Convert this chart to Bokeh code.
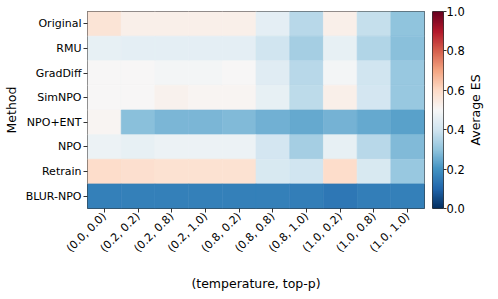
import numpy as np
from bokeh.plotting import figure
from bokeh.models import (LinearColorMapper, FactorRange, ColumnDataSource, FixedTicker,
                          Range1d, NumeralTickFormatter, Label)
from bokeh.transform import transform
from bokeh.layouts import row
from bokeh.embed import file_html
from bokeh.resources import INLINE

methods = ["Original", "RMU", "GradDiff", "SimNPO", "NPO+ENT", "NPO", "Retrain", "BLUR-NPO"]
combos = ["(0.0, 0.0)", "(0.2, 0.2)", "(0.2, 0.8)", "(0.2, 1.0)", "(0.8, 0.2)",
          "(0.8, 0.8)", "(0.8, 1.0)", "(1.0, 0.2)", "(1.0, 0.8)", "(1.0, 1.0)"]

original = [0.57, 0.53, 0.53, 0.53, 0.53, 0.45, 0.36, 0.53, 0.38, 0.30]
rmu      = [0.46, 0.45, 0.45, 0.45, 0.45, 0.40, 0.33, 0.46, 0.35, 0.29]
graddiff = [0.50, 0.50, 0.49, 0.49, 0.50, 0.44, 0.36, 0.49, 0.40, 0.31]
simnpo   = [0.50, 0.50, 0.52, 0.51, 0.51, 0.46, 0.37, 0.53, 0.41, 0.31]
npo_ent  = [0.51, 0.29, 0.27, 0.27, 0.28, 0.26, 0.245, 0.265, 0.245, 0.23]
npo      = [0.47, 0.46, 0.47, 0.47, 0.47, 0.41, 0.33, 0.46, 0.36, 0.28]
retrain  = [0.59, 0.585, 0.575, 0.575, 0.575, 0.42, 0.40, 0.59, 0.42, 0.31]
blur_npo = [0.16, 0.16, 0.16, 0.16, 0.16, 0.16, 0.155, 0.14, 0.155, 0.16]

rows = [original, rmu, graddiff, simnpo, npo_ent, npo, retrain, blur_npo]

# RdBu_r colormap stops
stops = ["#053061", "#2166ac", "#4393c3", "#92c5de", "#d1e5f0", "#f7f7f7",
         "#fddbc7", "#f4a582", "#d6604d", "#b2182b", "#67001f"]
def hex2rgb(h):
    return np.array([int(h[i:i + 2], 16) for i in (1, 3, 5)], dtype=float)
srgb = np.array([hex2rgb(s) for s in stops])
pos = np.linspace(0, 1, len(stops))
t = np.linspace(0, 1, 256)
palette = []
for tt in t:
    c = [np.interp(tt, pos, srgb[:, k]) for k in range(3)]
    palette.append("#%02x%02x%02x" % tuple(int(round(v)) for v in c))

mapper = LinearColorMapper(palette=palette, low=0.0, high=1.0)

xs, ys, vs = [], [], []
for m, vals in zip(methods, rows):
    for c, v in zip(combos, vals):
        xs.append(c)
        ys.append(m)
        vs.append(v)
src = ColumnDataSource(dict(x=xs, y=ys, v=vs))

FONT = "DejaVu Sans"
TOP = 11
BOTTOM = 79
FH = 197

p = figure(x_range=FactorRange(factors=combos), y_range=FactorRange(factors=list(reversed(methods))),
           frame_width=337, frame_height=FH, min_border_left=76, min_border_top=TOP,
           min_border_bottom=BOTTOM, min_border_right=5,
           output_backend="svg", toolbar_location=None, tools="")
p.rect(x="x", y="y", width=1, height=1, source=src,
       fill_color=transform("v", mapper), line_color=transform("v", mapper), line_width=0.6)
p.grid.grid_line_color = None
p.outline_line_color = "#333333"
p.outline_line_width = 1
p.background_fill_color = None
for ax in (p.xaxis[0], p.yaxis[0]):
    ax.axis_line_color = None
    ax.major_tick_line_color = "#333333"
    ax.major_tick_out = 4
    ax.major_tick_in = 0
    ax.minor_tick_line_color = None
    ax.major_label_text_font = FONT
    ax.major_label_text_font_size = "11px"
    ax.major_label_text_color = "black"
    ax.axis_label_text_font = FONT
    ax.axis_label_text_font_size = "12.5px"
    ax.axis_label_text_font_style = "normal"
    ax.axis_label_text_color = "black"
    ax.major_label_standoff = 2
    ax.axis_label_standoff = 4
p.xaxis.axis_label = "(temperature, top-p)"
p.yaxis.axis_label = "Method"
p.xaxis.major_label_orientation = np.pi / 4
p.xaxis.axis_label_standoff = 14

# colorbar as a separate figure
cb = figure(x_range=Range1d(0, 1), y_range=Range1d(0, 1), frame_width=11, frame_height=FH,
            min_border_left=3, min_border_top=TOP, min_border_bottom=BOTTOM, min_border_right=17,
            y_axis_location="right", output_backend="svg", toolbar_location=None, tools="")
cb.image(image=[np.linspace(0, 1, 256).reshape(256, 1)], x=0, y=0, dw=1, dh=1, color_mapper=mapper)
cb.xaxis.visible = False
cb.grid.grid_line_color = None
cb.outline_line_color = "#333333"
yax = cb.yaxis[0]
yax.ticker = FixedTicker(ticks=[0.0, 0.2, 0.4, 0.6, 0.8, 1.0])
yax.axis_line_color = None
yax.major_tick_line_color = "#333333"
yax.major_tick_out = 3
yax.major_tick_in = 0
yax.minor_tick_line_color = None
yax.major_label_text_font = FONT
yax.major_label_text_font_size = "11.5px"
yax.major_label_text_color = "black"
yax.major_label_standoff = 0
yax.formatter = NumeralTickFormatter(format="0.0")

# colorbar title in its own narrow figure
lab = figure(x_range=Range1d(0, 20), y_range=Range1d(0, 1), frame_width=20, frame_height=FH,
             min_border_left=0, min_border_right=0, min_border_top=TOP, min_border_bottom=BOTTOM,
             output_backend="svg", toolbar_location=None, tools="")
lab.axis.visible = False
lab.grid.grid_line_color = None
lab.outline_line_color = None
lab.add_layout(Label(x=7.5, y=0.5, text="Average ES", angle=np.pi / 2,
                     text_align="center", text_baseline="middle",
                     text_font=FONT, text_font_size="12.5px", text_color="black"))

layout = row(p, cb, lab)
open("out.html", "w").write(file_html(layout, INLINE))
